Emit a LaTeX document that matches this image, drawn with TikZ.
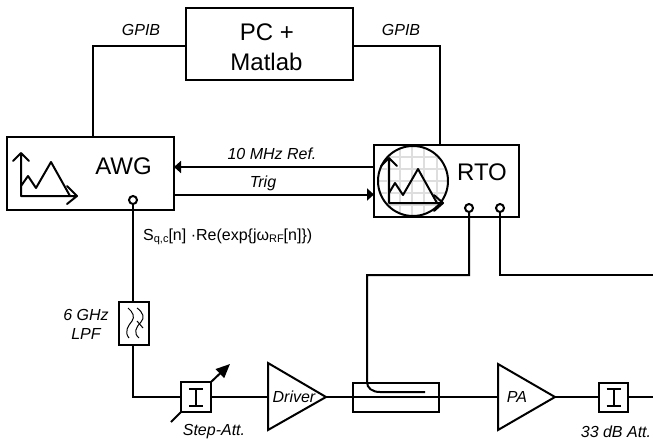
\documentclass[tikz,border=0pt]{standalone}
\usepackage{fontspec}
\setmainfont{Liberation Sans}
\usetikzlibrary{arrows.meta}
\tikzset{
  x=1pt,y=-1pt,
  wire/.style={line width=2pt,line join=miter},
  box/.style={draw,line width=2pt,minimum width=#1,inner sep=0pt,outer sep=0pt},
  port/.style={draw,circle,line width=2pt,minimum size=8pt,inner sep=0pt,outer sep=0pt,fill=white},
  big/.style={font=\fontsize{24}{28}\selectfont,align=center,inner sep=0pt},
  lab/.style={font=\itshape\fontsize{16}{19}\selectfont,inner sep=0pt,align=center},
  head/.style={-{Triangle[length=7pt,width=12pt]}},
  chev/.style={line width=2pt,line cap=round,line join=round},
}
\newcommand{\attsym}[2]{\draw[line width=2pt] (#1-7,#2-8.5)--(#1+7,#2-8.5) (#1,#2-8.5)--(#1,#2+8.5) (#1-7,#2+8.5)--(#1+7,#2+8.5);}
\begin{document}
\begin{tikzpicture}
\useasboundingbox (0,0) rectangle (653,444);
% boxes
\node[box=167pt,minimum height=72pt] (pc) at (269.5,44) {};
\node[big] (pct) at (267,32) {PC +};
\node[big] (pct2) at (266.5,62) {Matlab};
\node[box=167pt,minimum height=73pt] (awg) at (90.5,173.5) {};
\node[box=145pt,minimum height=72pt] (rto) at (446.5,181) {};
\node[big] (awgt) at (123.5,166) {AWG};
\node[big] (rtot) at (482,172) {RTO};
% ports
\node[port] (p1) at (133,200) {};
\node[port] (p2) at (469,208) {};
\node[port] (p3) at (500,208) {};
% RF chain
\node[box=30pt,minimum height=43pt] (lpf) at (133.5,323.5) {};
\node[box=30pt,minimum height=30pt] (att1) at (196,397) {};
\node[box=86pt,minimum height=29pt] (cpl) at (396,397) {};
\node[box=29pt,minimum height=29pt] (att2) at (613.5,397) {};
\coordinate (drvL) at (268,397);
\coordinate (drvT) at (268,363);
\coordinate (drvB) at (268,430);
\coordinate (drvR) at (326,397);
\coordinate (paL) at (498,397);
\coordinate (paT) at (498,364);
\coordinate (paB) at (498,430);
\coordinate (paR) at (555,397);
\draw[wire] (drvT)--(drvR)--(drvB)--cycle;
\draw[wire] (paT)--(paR)--(paB)--cycle;
\node[lab] (drvt) at (294,397) {Driver};
\node[lab] (pat) at (517,397) {PA};
% connectors
\coordinate (end1) at (653,397);
\coordinate (end2) at (653,275);
\coordinate (g1) at (93,46);
\coordinate (g2) at (440,46);
\coordinate (c1) at (133,397);
\coordinate (c2) at (367,275);
\coordinate (c3) at (469,275);
\coordinate (c4) at (500,275);
\draw[wire] (awg.north -| g1)--(g1)--(pc.west |- g1);
\draw[wire] (pc.east |- g2)--(g2)--(rto.north -| g2);
\draw[wire,head] (rto.west |- 0,167)--(awg.east |- 0,167);
\draw[wire,head] (awg.east |- 0,194.5)--(rto.west |- 0,194.5);
\draw[wire] (p1)--(lpf.north -| p1);
\draw[wire] (lpf.south -| p1)--(c1)--(att1.west);
\draw[wire] (att1.east)--(drvL);
\draw[wire] (drvR)--(cpl.west);
\draw[wire] (cpl.west)--(cpl.east);
\draw[wire] (cpl.east)--(paL);
\draw[wire] (paR)--(att2.west);
\draw[wire] (att2.east)--(end1);
\draw[wire] (p2)--(c3)--(c2)--(367,382) .. controls (367,388) and (372,392) .. (380,392) -- (425,392);
\draw[wire] (p3)--(c4)--(end2);
% attenuator details
\attsym{196}{397}
\attsym{613.5}{397}
\draw[wire] (171,422)--(att1.south west);
\draw[wire,-{Triangle[length=14pt,width=12pt]}] (att1.north east)--(230,364);
% filter
\draw[line width=1pt] (128,308) .. controls (133,312) and (135,317) .. (132,321) .. controls (128,326) and (124,332) .. (129,338);
\draw[line width=1pt] (137,308) .. controls (143,312) and (145,318) .. (141,322) .. controls (136,327) and (133,333) .. (139,338);
\draw[line width=1pt] (137,321)--(143,328);
% AWG icon
\draw[chev] (13,161)--(21,153)--(29,161) (21,153)--(21,196)--(77,196) (67,186)--(77,196)--(67,204);
\draw[chev] (21,186)--(28,176)--(36,188)--(51,162)--(70,196);
% RTO icon
\begin{scope}
\clip (413,181) circle (35);
\draw[black!13,line width=1.5pt] \foreach \x in {388,400,412,424,437}{(\x,140)--(\x,220)} \foreach \y in {157,169,181,193,205}{(370,\y)--(450,\y)};
\end{scope}
\draw[line width=2pt] (413,181) circle (35);
\draw[chev] (381,166)--(389,158)--(397,166) (389,158)--(389,203)--(443,203) (434,195)--(443,203)--(434,211);
\draw[chev] (389,193)--(395,183)--(403,195)--(418,169)--(437,203);
% labels
\node[lab] (l1) at (141,30) {GPIB};
\node[lab] (l2) at (401,30) {GPIB};
\node[lab] (l3) at (272,154) {10 MHz Ref.};
\node[lab] (l4) at (263,183) {Trig};
\node[lab] (l5) at (86,324.5) {6 GHz\\LPF};
\node[lab] (l6) at (214,432) {Step-Att.};
\node[lab] (l7) at (616,432) {33 dB Att.};
\node[font=\fontsize{16}{19}\selectfont,inner sep=0pt,anchor=west] (l8) at (143,237) {S\raisebox{-2pt}{\fontsize{11}{11}\selectfont q,c}[n] ·Re(exp\{jω\raisebox{-2pt}{\fontsize{11}{11}\selectfont RF}[n]\})};
\end{tikzpicture}
\end{document}
